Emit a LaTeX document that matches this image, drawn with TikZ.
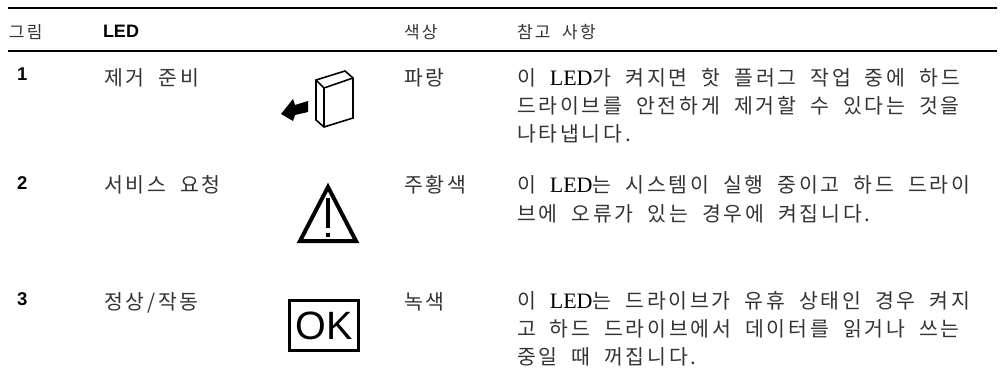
\documentclass[tikz,border=0pt]{standalone}
\usepackage{fontspec}
\setmainfont{Noto Sans CJK KR}[LetterSpace=13.5,WordSpace=1.9]
\newfontfamily\latinserif{Liberation Serif}
\newfontfamily\latinsans{Liberation Sans}
\definecolor{inkgray}{gray}{0.2}
\tikzset{
  x=1pt,y=-1pt,
  rulex/.style={line width=2pt,draw=black},
  cell/.style={anchor=base west,inner sep=0pt,outer sep=0pt,text=inkgray,font=\fontsize{20.5}{20.5}\selectfont},
  headcell/.style={cell,font=\fontsize{17}{17}\selectfont},
  numcell/.style={anchor=base west,inner sep=0pt,outer sep=0pt,font=\fontsize{18.5}{18.5}\latinsans\bfseries},
  iconline/.style={line width=1.6pt,draw=black,line join=miter},
}
\newcommand{\LED}{{\latinserif\fontsize{22}{22}\selectfont\color{black}LED}}
\begin{document}
\begin{tikzpicture}
\useasboundingbox (0,0) rectangle (1001,380);
\fill[white] (0,0) rectangle (1001,380);
\draw[rulex] (8,7.8) -- (997,7.8);
\draw[rulex] (8,51) -- (997,51);
% header
\node[headcell] (h1) at (9,38) {그림};
\node[numcell,font=\fontsize{18}{18}\latinsans\bfseries] (h2) at (103,37) {LED};
\node[headcell] (h3) at (404,38) {색상};
\node[headcell] (h4) at (517,38) {참고 사항};
% row 1
\node[numcell] (n1) at (17,80) {1};
\node[cell] (l1) at (104,85) {제거 준비};
\node[cell] (c1) at (404,85) {파랑};
\node[cell] (t1a) at (517,85) {이 \LED 가 켜지면 핫 플러그 작업 중에 하드};
\node[cell] (t1b) at (517,113) {드라이브를 안전하게 제거할 수 있다는 것을};
\node[cell] (t1c) at (517,141) {나타냅니다.};
% row 2
\node[numcell] (n2) at (17,189) {2};
\node[cell] (l2) at (104,192) {서비스 요청};
\node[cell] (c2) at (404,192) {주황색};
\node[cell] (t2a) at (517,192) {이 \LED 는 시스템이 실행 중이고 하드 드라이};
\node[cell] (t2b) at (517,221) {브에 오류가 있는 경우에 켜집니다.};
% row 3
\node[numcell] (n3) at (17,305) {3};
\node[cell] (l3) at (104,309) {정상/작동};
\node[cell] (c3) at (404,309) {녹색};
\node[cell] (t3a) at (517,308) {이 \LED 는 드라이브가 유휴 상태인 경우 켜지};
\node[cell] (t3b) at (517,336) {고 하드 드라이브에서 데이터를 읽거나 쓰는};
\node[cell] (t3c) at (517,364) {중일 때 꺼집니다.};
% icon 1: drive with arrow
\draw[iconline] (316,80) -- (345,71) -- (353,78) -- (353,118) -- (324,127) -- (316,120) -- cycle;
\draw[iconline] (316,80) -- (324,88) -- (353,78);
\draw[iconline] (324,88) -- (324,127);
\fill[black] (281,114) -- (293,99) -- (295,105) -- (308,101) -- (308,112) -- (295,115) -- (293,121) -- cycle;
% icon 2: warning triangle
\draw[line width=4pt,draw=black,line join=miter] (328,187) -- (300,241) -- (356,241) -- cycle;
\fill[black] (325.7,198) rectangle (330.3,228);
\fill[black] (325.7,233) rectangle (330.3,237);
% icon 3: OK box
\node[draw=black,line width=2.7pt,minimum width=69.3pt,minimum height=50.3pt,inner sep=0pt,font=\fontsize{39.5}{39.5}\latinsans] (ok) at (324,325.5) {OK};
\end{tikzpicture}
\end{document}
